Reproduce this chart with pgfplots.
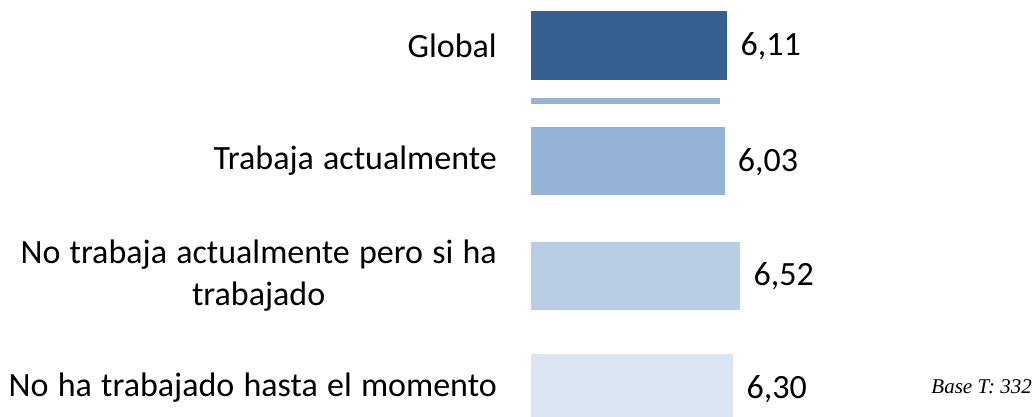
\documentclass[border=0pt]{standalone}
\usepackage{pgfplots}
\pgfplotsset{compat=1.18}
\usepackage{fontspec}
\setmainfont{Carlito}[WordSpace=1.2]
\newfontfamily\basefont{Liberation Serif}
\definecolor{cGlobal}{HTML}{365F91}
\definecolor{cTrab}{HTML}{95B3D7}
\definecolor{cNoTrab}{HTML}{B9CDE5}
\definecolor{cNoHa}{HTML}{DCE6F2}
\begin{document}
\begin{tikzpicture}[x=1bp,y=1bp]
\useasboundingbox (0,0) rectangle (1034,416);
\begin{axis}[
  at={(531bp,0bp)}, anchor=south west,
  scale only axis, width=503bp, height=416bp,
  xmin=0, xmax=15.655, ymin=0, ymax=416, y dir=reverse,
  axis line style={draw=none}, tick style={draw=none}, major tick length=0pt,
  xtick=\empty,
  ytick={45.5,161,275.5,388},
  yticklabels={Global,Trabaja actualmente,{No trabaja actualmente pero si ha\\trabajado},No ha trabajado hasta el momento},
  yticklabel style={font=\fontsize{34bp}{42bp}\selectfont, align=center, inner sep=0pt, anchor=east, xshift=-34bp},
  xbar, bar shift=0pt, bar width=68bp,
  /pgf/number format/.cd, use comma, fixed, fixed zerofill, precision=2, assume math mode=true,
  /pgfplots/.cd,
  every node near coord/.append style={font=\fontsize{34bp}{40bp}\selectfont, anchor=west, inner sep=0pt, xshift=13bp, yshift=-1bp, text=black},
]
\addplot[fill=cGlobal, draw=none, nodes near coords] coordinates {(6.11,45.5)};
\addplot[fill=cTrab, draw=none, bar width=6bp] coordinates {(5.88,101)};
\addplot[fill=cTrab, draw=none, nodes near coords] coordinates {(6.03,161)};
\addplot[fill=cNoTrab, draw=none, nodes near coords] coordinates {(6.52,275.5)};
\addplot[fill=cNoHa, draw=none, nodes near coords] coordinates {(6.30,388)};
\end{axis}
\node[anchor=base east, font=\basefont\itshape\fontsize{21bp}{24bp}\selectfont, inner sep=0pt] at (1032,23) {Base T: 332};
\end{tikzpicture}
\end{document}
